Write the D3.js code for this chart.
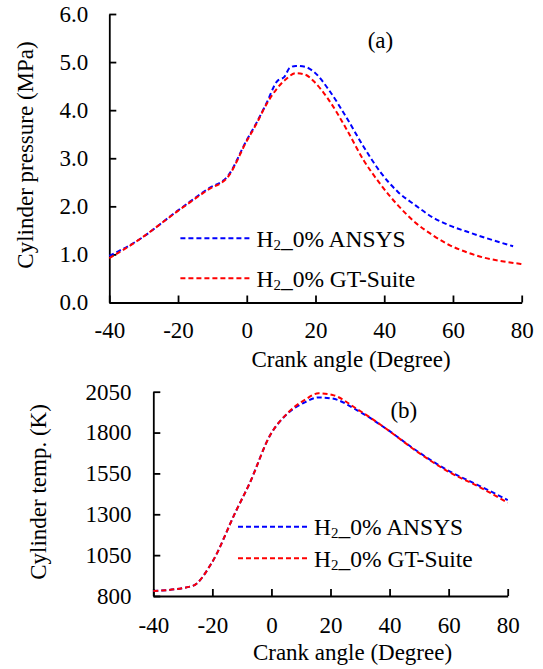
<!DOCTYPE html>
<html>
<head>
<meta charset="utf-8">
<script src="https://cdn.jsdelivr.net/npm/d3@7"></script>
<style>
  body { margin: 0; background: #fff; }
  svg text { font-family: "Liberation Serif", "Times New Roman", "DejaVu Serif", serif !important; fill: #000; }
  .axis path, .axis line { stroke: #000; stroke-width: 1.8; }
  .axis text { font-size: 23px; }
</style>
</head>
<body>
<script>
// (a) cylinder pressure, crank angle in degrees
const angleAnsysP = [-40, -31.5, -20.3, -11.4, -5.3, 0, 2.7, 5.7, 8.8, 11, 12.5, 14.3, 17, 19.5, 23.9, 28.9, 34, 39, 44, 49.1, 54.1, 59.1, 64.2, 69.2, 77.5];
const pressAnsys = [0.97, 1.30, 1.90, 2.36, 2.65, 3.38, 3.72, 4.14, 4.60, 4.70, 4.88, 4.92, 4.90, 4.80, 4.42, 3.86, 3.24, 2.70, 2.30, 2.02, 1.77, 1.60, 1.47, 1.35, 1.17];
const angleGtP = [-40, -31.5, -20.3, -11.4, -5.3, 0, 2.7, 5.7, 8.8, 11.5, 14.3, 17, 19.5, 23.9, 28.9, 34, 39, 44, 49.1, 54.1, 59.1, 64.2, 69.2, 74.3, 80];
const pressGt = [0.92, 1.30, 1.89, 2.34, 2.63, 3.36, 3.70, 4.12, 4.45, 4.65, 4.77, 4.74, 4.60, 4.21, 3.62, 2.96, 2.45, 2.02, 1.66, 1.40, 1.19, 1.04, 0.93, 0.86, 0.80];

// (b) cylinder temperature
const angleT = [-40, -26.8, -20.3, -12.1, -7.4, -0.4, 5.5, 11.3, 16, 20.7, 28.9, 39.5, 48.8, 60.5, 69.9, 80];
const tempAnsys = [830, 861, 1000, 1316, 1489, 1785, 1917, 1985, 2015, 2008, 1938, 1815, 1693, 1561, 1479, 1387];
const tempGt = [830, 861, 1000, 1316, 1489, 1785, 1920, 2000, 2040, 2030, 1945, 1815, 1690, 1555, 1472, 1371];

const xTicks = [-40, -20, 0, 20, 40, 60, 80];
const pTicks = [0, 1, 2, 3, 4, 5, 6];
const tTicks = [800, 1050, 1300, 1550, 1800, 2050];
const seriesNames = ['ANSYS', 'GT-Suite'];
const seriesColors = ['#0000ff', '#ff0000'];

const svg = d3.select('body').append('svg')
  .attr('width', 543)
  .attr('height', 669);

function panel(opt) {
  const x = d3.scaleLinear().domain([-40, 80]).range([opt.left, opt.right]);
  const y = d3.scaleLinear().domain(opt.ydom).range([opt.bottom, opt.top]);

  // ticks point inward, plain hyphen for negatives
  const xaxis = d3.axisBottom(x).tickValues(xTicks).tickSize(-7).tickSizeOuter(0).tickPadding(opt.xpad)
    .tickFormat(d => String(d));
  svg.append('g').attr('class', 'axis')
    .attr('transform', `translate(0,${opt.bottom})`)
    .call(xaxis);

  const yaxis = d3.axisLeft(y).tickValues(opt.yticks).tickSize(-7).tickSizeOuter(0).tickPadding(opt.ypad)
    .tickFormat(opt.yfmt);
  svg.append('g').attr('class', 'axis')
    .attr('transform', `translate(${opt.left},0)`)
    .call(yaxis);

  const line = d3.line().x(d => x(d[0])).y(d => y(d[1])).curve(d3.curveMonotoneX);
  opt.series.forEach((s, i) => {
    svg.append('path')
      .datum(d3.zip(s.xs, s.ys))
      .attr('fill', 'none')
      .attr('stroke', seriesColors[i])
      .attr('stroke-width', 2)
      .attr('stroke-dasharray', '5,3')
      .attr('d', line);
  });

  // axis titles
  svg.append('text')
    .attr('x', opt.xtitle[0]).attr('y', opt.xtitle[1])
    .attr('text-anchor', 'middle').attr('font-size', 23)
    .text('Crank angle (Degree)');
  svg.append('text')
    .attr('transform', `translate(${opt.ytitle[0]},${opt.ytitle[1]}) rotate(-90)`)
    .attr('text-anchor', 'middle').attr('font-size', 23)
    .text(opt.ylabel);

  // panel letter
  svg.append('text')
    .attr('x', opt.letter[0]).attr('y', opt.letter[1])
    .attr('font-size', 23)
    .text(opt.letterText);

  // legend
  seriesNames.forEach((name, i) => {
    const ly = opt.legend[1] + i * opt.legend[2];
    svg.append('line')
      .attr('x1', opt.legend[0]).attr('x2', opt.legend[0] + 69)
      .attr('y1', ly).attr('y2', ly)
      .attr('stroke', seriesColors[i]).attr('stroke-width', 2)
      .attr('stroke-dasharray', '5,3');
    const t = svg.append('text')
      .attr('x', opt.legend[0] + 76).attr('y', ly + 8.5)
      .attr('font-size', 23.5);
    t.append('tspan').text('H');
    t.append('tspan').attr('font-size', 15).attr('dy', 3).text('2');
    t.append('tspan').attr('dy', -3).text('_0% ' + name);
  });
}

panel({
  left: 109.3, right: 521.7, top: 14, bottom: 302.5,
  ydom: [0, 6], yticks: pTicks, yfmt: d3.format('.1f'), xpad: 19, ypad: 21,
  series: [{xs: angleAnsysP, ys: pressAnsys}, {xs: angleGtP, ys: pressGt}],
  xtitle: [351, 366.5], ytitle: [33, 155], ylabel: 'Cylinder pressure (MPa)',
  letter: [367.7, 48], letterText: '(a)',
  legend: [180.4, 238.3, 40]
});

panel({
  left: 153.3, right: 507.7, top: 391.7, bottom: 596,
  ydom: [800, 2050], yticks: tTicks, yfmt: d3.format('d'), xpad: 20.5, ypad: 21.7,
  series: [{xs: angleT, ys: tempAnsys}, {xs: angleT, ys: tempGt}],
  xtitle: [352.5, 660], ytitle: [46, 492], ylabel: 'Cylinder temp. (K)',
  letter: [390.4, 418], letterText: '(b)',
  legend: [238, 526.7, 31.6]
});
</script>
</body>
</html>
